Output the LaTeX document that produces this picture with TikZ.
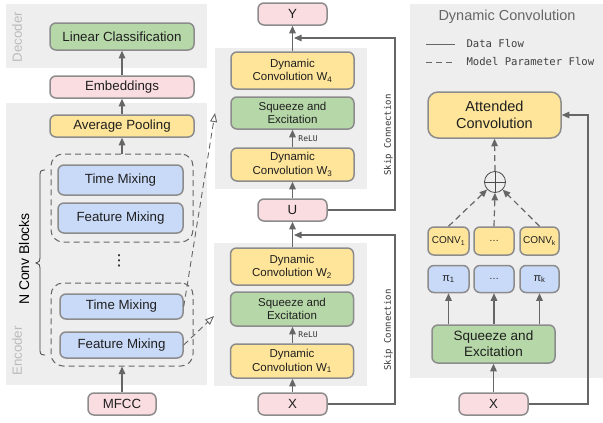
\documentclass[tikz,border=0pt]{standalone}
\usepackage{fontspec}
\setmainfont{Liberation Sans}
\newfontfamily\monofont{DejaVu Sans Mono}
\newfontfamily\symfont{DejaVu Sans}
\usetikzlibrary{arrows.meta}
\definecolor{panelgray}{HTML}{EEEEEE}
\definecolor{edgegray}{HTML}{8C8C8C}
\definecolor{arrowgray}{HTML}{666666}
\definecolor{boxyellow}{HTML}{FFE599}
\definecolor{boxgreen}{HTML}{B6D7A8}
\definecolor{boxblue}{HTML}{C9DAF8}
\definecolor{boxpink}{HTML}{FADDE1}
\definecolor{labelgray}{HTML}{BBBBBB}
\definecolor{titlegray}{HTML}{666666}
\newcommand\lsub[1]{\textsubscript{#1}}
\tikzset{
  box/.style={draw=edgegray, line width=1.5pt, rounded corners=6pt, align=center, inner sep=0pt, text=black!88},
  yel/.style={box, fill=boxyellow},
  grn/.style={box, fill=boxgreen},
  blu/.style={box, fill=boxblue},
  pnk/.style={box, fill=boxpink},
  wh/.style n args={2}{minimum width=#1pt, minimum height=#2pt},
  fbig/.style={font=\fontsize{13.3}{15.5}\selectfont},
  fmid/.style={font=\fontsize{11.5}{13.5}\selectfont},
  fsmall/.style={font=\fontsize{10}{12}\selectfont},
  fmono/.style={font=\monofont\fontsize{9}{11}\selectfont},
  arr/.style={draw=arrowgray, line width=1.2pt, -{Triangle[length=7.5pt,width=6.5pt]}},
  darr/.style={arr, dash pattern=on 6pt off 4pt},
  oarr/.style={draw=arrowgray, line width=0.9pt, dash pattern=on 6pt off 4pt, -{Triangle[open,length=9pt,width=7pt]}},
  grp/.style={draw=arrowgray, line width=1pt, dash pattern=on 6pt off 4pt, rounded corners=12pt, inner sep=0pt},
}
\begin{document}
\begin{tikzpicture}[x=1pt,y=-1pt]
\useasboundingbox (0,0) rectangle (603,423);
% panels
\fill[panelgray] (6,4) rectangle (207,68);
\fill[panelgray] (6,103) rectangle (207,385);
\fill[panelgray] (215,48) rectangle (367,189);
\fill[panelgray] (214,243) rectangle (367,386);
\fill[panelgray] (410,4) rectangle (603,378);

% panel labels
\node[fbig, text=labelgray, rotate=90] (declab) at (17,37) {Decoder};
\node[fbig, text=labelgray, rotate=90] (enclab) at (17,351) {Encoder};
\node[font=\fontsize{14}{16}\selectfont, rotate=90] (nconv) at (24,259) {N Conv Blocks};

% left column
\node[grn, wh={144}{27}, fbig] (lin) at (122,36.5) {Linear Classification};
\node[pnk, wh={144}{22}, fbig] (emb) at (122,87) {Embeddings};
\node[yel, wh={144}{22}, fbig] (avg) at (122,126) {Average Pooling};
\node[grp, wh={142}{88}] (grp1) at (122,198) {};
\node[blu, wh={125}{30}, fbig] (tm1) at (120.5,180) {Time Mixing};
\node[blu, wh={125}{30}, fbig] (fm1) at (120.5,218) {Feature Mixing};
\node[font=\symfont\fontsize{15}{15}\selectfont, inner sep=0pt] (dots) at (119,261) {⋮};
\node[grp, wh={142}{83}] (grp2) at (122,324.5) {};
\node[blu, wh={123}{25}, fbig] (tm2) at (121.5,306.5) {Time Mixing};
\node[blu, wh={123}{26}, fbig] (fm2) at (121.5,345) {Feature Mixing};
\node[pnk, wh={68}{22}, fbig] (mfcc) at (122,404) {MFCC};

\draw[arr] (mfcc.north) -- (grp2.south);
\draw[arr] (grp1.north) -- (avg.south);
\draw[arr] (avg.north) -- (emb.south);
\draw[arr] (emb.north) -- (lin.south);

% brace
\draw[draw=black!75, line width=0.8pt] (45,170) .. controls (41,170) and (40,171) .. (40,175) -- (40,257)
  .. controls (40,261) and (39,263) .. (36,263) .. controls (39,263) and (40,265) .. (40,269)
  -- (40,350) .. controls (40,354) and (41,355) .. (45,355);

% middle column
\node[pnk, wh={69}{22}, fbig] (Y) at (292.5,14) {Y};
\node[yel, wh={123}{37}, fmid] (W4) at (292.5,70.5) {Dynamic\\Convolution W\lsub{4}};
\node[grn, wh={123}{32}, fmid] (SEa) at (292.5,113) {Squeeze and\\Excitation};
\node[yel, wh={123}{33}, fmid] (W3) at (292.5,164.5) {Dynamic\\Convolution W\lsub{3}};
\node[pnk, wh={69}{22}, fbig] (U) at (292.5,210) {U};
\node[yel, wh={123}{37}, fmid] (W2) at (292,266.5) {Dynamic\\Convolution W\lsub{2}};
\node[grn, wh={123}{34}, fmid] (SEb) at (292,309) {Squeeze and\\Excitation};
\node[yel, wh={123}{34}, fmid] (W1) at (292,361) {Dynamic\\Convolution W\lsub{1}};
\node[pnk, wh={69}{22}, fbig] (X) at (292.5,404) {X};

\draw[arr] (X.north) -- (W1.south -| X.north);
\draw[arr] (W1.north -| X.north) -- (SEb.south -| X.north) node[midway, right=2pt, font=\monofont\fontsize{8}{10}\selectfont, text=black!80] (relu1) {ReLU};
\draw[arr] (W2.north -| X.north) -- (U.south);
\draw[arr] (U.north) -- (W3.south);
\draw[arr] (W3.north) -- (SEa.south) node[midway, right=2pt, font=\monofont\fontsize{8}{10}\selectfont, text=black!80] (relu2) {ReLU};
\draw[arr] (W4.north) -- (Y.south);

\coordinate (sk1) at (294,38);
\coordinate (sk2) at (294,235);
\draw[arr] (U.east) -- (395,210) |- (sk1);
\draw[arr] (X.east) -- (395,404) |- (sk2);
\node[fmono, rotate=90, text=black!80] (skl1) at (388.5,135) {Skip Connection};
\node[fmono, rotate=90, text=black!80] (skl2) at (388.5,330) {Skip Connection};

% dashed parameter flows from encoder
\coordinate (p1) at (215,113);
\coordinate (p2) at (214,316);
\draw[oarr] (tm2.east) -- (p1);
\draw[oarr] (fm2.east) -- (p2);

% right panel
\node[font=\fontsize{14.5}{16}\selectfont, text=titlegray] (title) at (507,17) {Dynamic Convolution};
\coordinate (l1a) at (426,44); \coordinate (l1b) at (455,44);
\coordinate (l2a) at (426,62); \coordinate (l2b) at (455,62);
\draw[draw=arrowgray, line width=1pt] (l1a) -- (l1b);
\draw[draw=arrowgray, line width=1pt, dash pattern=on 6pt off 4pt] (l2a) -- (l2b);
\node[font=\monofont\fontsize{10.6}{12}\selectfont, text=black!75, anchor=west] (leg1) at (463,44) {Data Flow};
\node[font=\monofont\fontsize{10.6}{12}\selectfont, text=black!75, anchor=west] (leg2) at (463,62) {Model Parameter Flow};

\node[yel, wh={133}{46}, rounded corners=10pt, font=\fontsize{14.5}{17}\selectfont] (att) at (494.5,115) {Attended\\Convolution};
\node[circle, draw=black!70, line width=0.8pt, minimum size=21pt, inner sep=0pt] (sum) at (495,182) {};
\draw[draw=black!70, line width=0.8pt] (sum.north) -- (sum.south) (sum.west) -- (sum.east);

\node[yel, wh={41}{28}, fsmall] (conv1) at (448.5,241) {CONV\lsub{1}};
\node[yel, wh={40}{28}, fsmall] (convd) at (494,241) {\ldots};
\node[yel, wh={39}{28}, fsmall] (convk) at (539.5,241) {CONV\lsub{k}};
\node[blu, wh={41}{27}, font=\fontsize{11}{13}\selectfont] (pi1) at (448.5,279) {π\lsub{1}};
\node[blu, wh={40}{27}, fsmall] (pid) at (494,279) {\ldots};
\node[blu, wh={39}{27}, font=\fontsize{11}{13}\selectfont] (pik) at (539.5,279) {π\lsub{k}};
\node[grn, wh={123}{38}, font=\fontsize{13.5}{16}\selectfont] (se) at (493.5,344) {Squeeze and\\Excitation};
\node[pnk, wh={69}{22}, fbig] (xr) at (493.5,404) {X};

\draw[darr] (conv1.north) -- (sum);
\draw[darr] (convd.north) -- (sum.south);
\draw[darr] (convk.north) -- (sum);
\draw[darr] (sum.north) -- (att.south);
\draw[arr] (se.north -| pi1) -- (pi1.south);
\draw[arr] (se.north -| pid) -- (pid.south);
\draw[arr] (se.north -| pik) -- (pik.south);
\draw[arr] (xr.north) -- (se.south);
\draw[arr] (xr.east) -- (588,404) |- (att.east);
\end{tikzpicture}
\end{document}
